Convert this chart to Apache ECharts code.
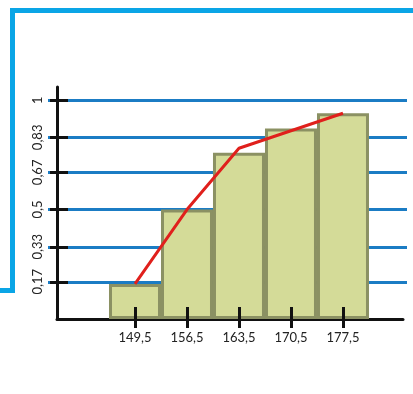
<!DOCTYPE html>
<html>
<head>
<meta charset="utf-8">
<script src="https://cdn.jsdelivr.net/npm/echarts@6/dist/echarts.min.js"></script>
<style>
html,body{margin:0;padding:0;background:#fff;}
#c{width:413px;height:394px;}
</style>
</head>
<body>
<div id="c"></div>
<script>
// Data
const categories = [149.5, 156.5, 163.5, 170.5, 177.5];
const barValues = [0.16, 0.5, 0.76, 0.87, 0.94];
const lineValues = [0.16, 0.5, 0.78, 0.86, 0.94];
const yTicks = [0.17, 0.33, 0.5, 0.67, 0.83, 1];

const fmt = v => String(v).replace('.', ',');
const xMin = 139, xMax = 185.58, yMin = 0, yMax = 1.06;
const font = 'Lato, "Open Sans", sans-serif';

const chart = echarts.init(document.getElementById('c'), null, {renderer: 'canvas'});
chart.setOption({
  animation: false,
  backgroundColor: '#fff',
  graphic: [{
    type: 'polyline',
    shape: {points: [[413, 10.5], [12.5, 10.5], [12.5, 290.5], [0, 290.5]]},
    style: {stroke: '#0aa5e6', lineWidth: 5, fill: null},
    silent: true
  }],
  grid: [
    {left: 48, right: 6, top: 87, height: 232},
    {left: 57, right: 10, top: 87, height: 232}
  ],
  xAxis: [
    {gridIndex: 0, type: 'value', min: 0, max: 1, show: false},
    {gridIndex: 1, type: 'value', position: 'bottom', min: xMin, max: xMax,
      axisLine: {show: true, onZero: false, lineStyle: {color: '#111', width: 3}},
      axisTick: {show: false}, splitLine: {show: false},
      axisLabel: {customValues: categories, formatter: fmt, margin: 12, color: '#222', fontSize: 13, fontFamily: font}},
    {gridIndex: 1, type: 'value', position: 'bottom', min: xMin, max: xMax, offset: -12, z: 5,
      axisLine: {show: false, onZero: false},
      axisTick: {show: true, customValues: categories, length: 21, lineStyle: {color: '#111', width: 3}},
      axisLabel: {show: false}, splitLine: {show: false}}
  ],
  yAxis: [
    {gridIndex: 0, type: 'value', position: 'left', min: yMin, max: yMax,
      axisLine: {show: false, onZero: false}, axisTick: {show: false, customValues: yTicks},
      axisLabel: {show: false, customValues: yTicks},
      splitLine: {show: true, lineStyle: {color: '#1b7cc4', width: 3}}},
    {gridIndex: 1, type: 'value', position: 'left', min: yMin, max: yMax, z: 5,
      axisLine: {show: true, onZero: false, lineStyle: {color: '#111', width: 3}},
      axisTick: {show: false}, splitLine: {show: false},
      axisLabel: {customValues: yTicks, formatter: fmt, rotate: 90, margin: 13, color: '#222', fontSize: 13, fontFamily: font}},
    {gridIndex: 1, type: 'value', position: 'left', min: yMin, max: yMax, offset: 7, z: 5,
      axisLine: {show: false, onZero: false},
      axisTick: {show: true, inside: true, customValues: yTicks, length: 18, lineStyle: {color: '#111', width: 3}},
      axisLabel: {show: false}, splitLine: {show: false}}
  ],
  series: [
    {type: 'bar', xAxisIndex: 1, yAxisIndex: 1, z: 2, barWidth: 52,
      data: categories.map((c, i) => [c, barValues[i]]),
      itemStyle: {color: '#d4db98', borderColor: '#8b9163', borderWidth: 3}},
    {type: 'line', xAxisIndex: 1, yAxisIndex: 1, z: 3, symbol: 'none',
      data: categories.map((c, i) => [c, lineValues[i]]),
      lineStyle: {color: '#e0201c', width: 3}}
  ]
});
</script>
</body>
</html>
